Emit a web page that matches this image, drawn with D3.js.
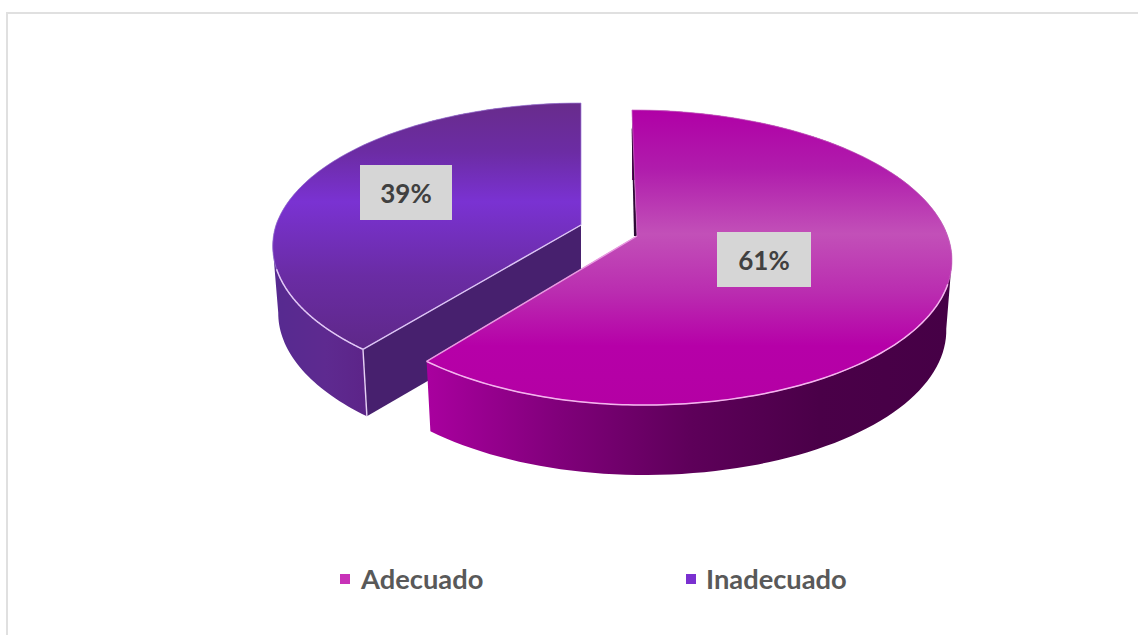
<!DOCTYPE html>
<html><head><meta charset="utf-8">
<script src="https://cdn.jsdelivr.net/npm/d3@7/dist/d3.min.js"></script>
<style>html,body{margin:0;padding:0;background:#fff;overflow:hidden}svg{display:block}text{font-family:Lato,"Open Sans",sans-serif;font-weight:700}</style>
</head><body><svg id="c" width="1138" height="635"></svg>
<script>
const categories = ["Adecuado", "Inadecuado"];
const values = [61, 39];
const labels = ["61%", "39%"];
const legendColors = ["#c832b8", "#7a30d0"];

const svg = d3.select("#c");
const defs = svg.append("defs");

// one geometry per exploded slice, index-aligned with categories
const geom = [
  {cx:637, cy:236, rxL:300, rxR:310.7, ry:144.4, k:0.1457, shear:0.04, shearLow:0.04, depth:70, edgeFrom:1.895},
  {cx:581, cy:225, rxL:305, rxR:305, ry:141.5, k:0.16, shear:0, shearLow:0.03, depth:67, edgeTo:4.41}
];
const pie = d3.pie().sort(null).startAngle(0).endAngle(2*Math.PI);
const arcs = pie(values);

function project(g, a, r = 1) {
  const s = Math.sin(a) * r, c = Math.cos(a) * r, den = 1 + g.k * c;
  const dy = -g.ry * c / den;
  const dx = (s < 0 ? g.rxL : g.rxR) * s / den + (dy < 0 ? g.shear : g.shearLow) * dy;
  return [g.cx + dx, g.cy + dy];
}
function drop(g, p) { // extrude downward, verticals converge slightly toward the chart centre
  return [p[0] + (g.cx - p[0]) * 0.018, p[1] + g.depth];
}
const line = d3.line();
const sample = (a0, a1) => d3.range(0, 121).map(i => a0 + (a1 - a0) * i / 120);

function grad(id, horizontal, from, to, stops) {
  const gr = defs.append("linearGradient").attr("id", id).attr("gradientUnits", "userSpaceOnUse");
  if (horizontal) gr.attr("x1", from).attr("x2", to).attr("y1", 0).attr("y2", 0);
  else gr.attr("y1", from).attr("y2", to).attr("x1", 0).attr("x2", 0);
  stops.forEach(([o, col]) => gr.append("stop").attr("offset", o).attr("stop-color", col));
}
grad("topA", false, 110, 405, [[0,"#b000a6"],[0.2,"#b01cac"],[0.42,"#c250b8"],[0.62,"#ba2cb0"],[0.8,"#b600a8"],[1,"#b400a4"]]);
grad("topB", false, 103, 350, [[0,"#682c8c"],[0.2,"#6c2ca4"],[0.4,"#7a32d2"],[0.7,"#6a2ca4"],[1,"#5e2888"]]);
grad("wallA", true, 430, 950, [[0,"#a8009e"],[0.25,"#80007a"],[0.5,"#5e005a"],[0.75,"#4a0048"],[1,"#460046"]]);
grad("wallB", true, 274, 368, [[0,"#562a90"],[0.55,"#5e2a90"],[1,"#5c2488"]]);

// chart frame (only the top and left rules are visible)
svg.append("g").call(g => {
  g.append("rect").attr("x",6).attr("y",12).attr("width",1132).attr("height",2).attr("fill","#e0e0e0");
  g.append("rect").attr("x",6).attr("y",12).attr("width",2).attr("height",623).attr("fill","#e0e0e0");
});

// draw order: purple slice behind, magenta in front
[1, 0].forEach(i => {
  const g = geom[i], d = arcs[i], gid = i === 0 ? "A" : "B";
  const grp = svg.append("g").attr("class", "slice").datum(d);
  const rim = sample(d.startAngle, d.endAngle).map(a => project(g, a));
  const apex = [g.cx, g.cy];

  // outer wall: consistently wound quads, so the silhouette has no notch at the side extremes
  const wallPath = d3.pairs(rim).map(([p, q]) => {
    const quad = [p, q, drop(g, q), drop(g, p)];
    return line(q[0] < p[0] ? quad.reverse() : quad) + "Z";
  }).join("");
  grp.append("path").attr("d", wallPath).attr("fill", `url(#wall${gid})`);

  if (i === 1) {
    // cut face seen at the lower edge of the purple slice
    const corner = rim[0];
    const face = [apex, corner, drop(g, corner), drop(g, apex)];
    grp.append("path").attr("d", line(face) + "Z").attr("fill", "#47206e");
    grp.append("path").attr("d", line([corner, drop(g, corner)])).attr("stroke", "#e6d0f4").attr("stroke-width", 1.4).attr("fill", "none");
  } else {
    // thin dark sliver of the cut face beside the upper radial edge
    const top = project(g, d.startAngle, 0.85);
    const sliver = [apex, [top[0] - 0.5, top[1]], [top[0] - 1, top[1] + 3], [apex[0] - 3, apex[1]]];
    grp.append("path").attr("d", line(sliver) + "Z").attr("fill", "#2c0a34");
  }

  // top face
  const top = [apex].concat(rim);
  grp.append("path").attr("d", line(top) + "Z").attr("fill", `url(#top${gid})`)
    .attr("stroke", i === 0 ? "#d070c8" : "#a080d8").attr("stroke-width", 0.7);

  // bright front edges
  const lo = i === 0 ? sample(g.edgeFrom, d.endAngle) : sample(d.startAngle, g.edgeTo);
  grp.append("path").attr("d", line(lo.map(a => project(g, a)))).attr("fill", "none")
    .attr("stroke", i === 0 ? "#f4b4ee" : "#e2c8f6").attr("stroke-width", 1.5);
  grp.append("path").attr("d", line([apex, rim[i === 0 ? rim.length - 1 : 0]])).attr("fill", "none")
    .attr("stroke", i === 0 ? "#e89ae0" : "#dcc4f4").attr("stroke-width", 1.4);
});

// data labels
const boxes = [{x:717,y:232,w:94,h:55},{x:360,y:165,w:92,h:55}];
labels.forEach((t, i) => {
  const b = boxes[i];
  svg.append("rect").attr("x",b.x).attr("y",b.y).attr("width",b.w).attr("height",b.h).attr("fill","#d6d6d6");
  svg.append("text").attr("x",b.x+b.w/2).attr("y",b.y+b.h/2+10).attr("text-anchor","middle")
    .attr("font-size",26).attr("fill","#404040").text(t);
});

// legend
const legendX = d3.scalePoint().domain(categories).range([340, 686]);
categories.forEach((c, i) => {
  const x = legendX(c);
  svg.append("rect").attr("x",x).attr("y",574).attr("width",10).attr("height",10).attr("fill",legendColors[i]);
  svg.append("text").attr("x",x+(i===0?21:20)).attr("y",589).attr("font-size",27.3).attr("fill","#595959").text(c);
});
</script></body></html>
